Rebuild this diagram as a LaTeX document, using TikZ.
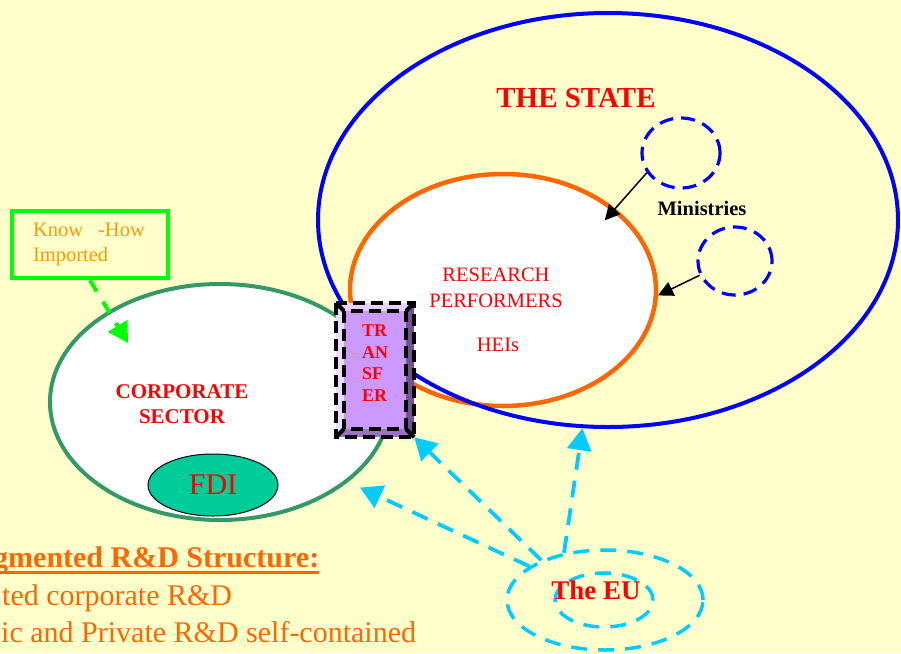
\documentclass[tikz,border=0pt]{standalone}
\usepackage{fontspec}
\setmainfont{Liberation Serif}
\usepackage{tikz}
\usetikzlibrary{shapes.geometric,arrows.meta,positioning,calc}
\definecolor{slide}{HTML}{FFFFCC}
\definecolor{stateblue}{HTML}{0000FF}
\definecolor{rporange}{HTML}{FF6600}
\definecolor{corpgreen}{HTML}{339966}
\definecolor{khgreen}{HTML}{00FF00}
\definecolor{khtext}{HTML}{FF9900}
\definecolor{eucyan}{HTML}{00CCFF}
\definecolor{trpurple}{HTML}{CC99FF}
\definecolor{fditeal}{HTML}{00CC99}

\begin{document}
\begin{tikzpicture}[x=1pt,y=-1pt,
    oval/.style={shape=ellipse, inner sep=0pt},
    lbl/.style={text=red, align=center, inner sep=0pt},
    ministry/.style={oval, draw=stateblue, line width=3.2pt, dash pattern=on 14pt off 8pt},
    eudash/.style={oval, draw=eucyan, line width=3.5pt, dash pattern=on 16pt off 11pt},
    eulink/.style={draw=eucyan, line width=3.8pt, dash pattern=on 17pt off 11pt, -{Triangle[length=22pt,width=24pt]}},
    minlink/.style={draw=black, line width=1.5pt, -{Triangle[length=15pt,width=15pt]}},
    trline/.style={draw=black, line width=4pt, dash pattern=on 12pt off 6pt},
  ]
  \useasboundingbox[fill=slide] (0,0) rectangle (901,653);

  % state and research performers
  \node[oval, draw=rporange, fill=white, line width=4.5pt, minimum width=306pt, minimum height=232pt] (rp) at (503,290) {};
  \node[oval, draw=stateblue, line width=4pt, minimum width=580pt, minimum height=414pt] (state) at (608,220) {};
  \node[lbl, font=\bfseries\fontsize{29}{32}\selectfont] (statelbl) at (576,98) {THE STATE};
  \node[lbl, font=\fontsize{20.5}{26}\selectfont] (rplbl) at (496,288) {RESEARCH\\PERFORMERS};
  \node[lbl, font=\fontsize{20.5}{24}\selectfont] (heis) at (498,345) {HEIs};

  \node[ministry, minimum width=78pt, minimum height=70pt] (min1) at (681,153) {};
  \node[ministry, minimum width=74pt, minimum height=68pt] (min2) at (735,261) {};
  \node[inner sep=0pt, font=\bfseries\fontsize{20.5}{24}\selectfont] (minlbl) at (702,208) {Ministries};
  \draw[minlink, shorten >=-16pt] (min1.-150) -- (rp.36);
  \draw[minlink] (min2.-158) -- (rp.-2);

  % corporate sector
  \node[oval, draw=corpgreen, fill=white, line width=4pt, minimum width=340pt, minimum height=236pt] (corp) at (220,402) {};
  \node[lbl, font=\bfseries\fontsize{21}{25}\selectfont] (corplbl) at (182,404) {CORPORATE\\SECTOR};
  \node[oval, draw=black, fill=fditeal, line width=1pt, minimum width=130pt, minimum height=62pt,
    text=red, font=\fontsize{30}{32}\selectfont] (fdi) at (213,485) {FDI};

  % know-how box
  \node[draw=khgreen, line width=4.5pt, minimum width=156pt, minimum height=67pt, text width=114pt, align=left,
    text=khtext, font=\fontsize{20.5}{25}\selectfont] (kh) at (90,244.5) {Know\hspace{0.4em} -How\\Imported};
  \coordinate (kh-end) at (128,343);
  \draw[draw=khgreen, line width=4pt, dash pattern=on 13pt off 12pt, -{Triangle[length=20pt,width=22pt]}] (kh.south) -- (kh-end);

  % transfer box
  \node[fill=trpurple, minimum width=78pt, minimum height=134pt, inner sep=0pt] (tr) at (375,370) {};
  \fill[fill=trpurple!45!white] (tr.north west) -- (tr.north east) -- ($(tr.north east)+(-8,8)$) -- ($(tr.north west)+(8,8)$) -- cycle;
  \fill[fill=trpurple!35!white] (tr.north west) -- ($(tr.north west)+(8,8)$) -- ($(tr.south west)+(8,-8)$) -- (tr.south west) -- cycle;
  \fill[fill=trpurple!55!black] (tr.north east) -- (tr.south east) -- ($(tr.south east)+(-8,-8)$) -- ($(tr.north east)+(-8,8)$) -- cycle;
  \fill[fill=trpurple!75!black] (tr.south west) -- (tr.south east) -- ($(tr.south east)+(-8,-8)$) -- ($(tr.south west)+(8,-8)$) -- cycle;
  \draw[trline] (tr.north west) rectangle (tr.south east);
  \draw[trline] ($(tr.north west)+(8,8)$) rectangle ($(tr.south east)+(-8,-8)$);
  \draw[trline, dash pattern=] (tr.north west) -- ++(8,8) (tr.north east) -- ++(-8,8)
    (tr.south west) -- ++(8,-8) (tr.south east) -- ++(-8,-8);
  \node[text=red, align=left, inner sep=0pt, font=\bfseries\fontsize{18}{21.5}\selectfont, yshift=7pt] (trlbl) at (tr.center) {TR\\AN\\SF\\ER};

  % the EU
  \node[eudash, minimum width=196pt, minimum height=100pt] (eu) at (605,600) {};
  \node[eudash, minimum width=98pt, minimum height=54pt] (euin) at (604,600) {};
  \node[lbl, font=\bfseries\fontsize{27}{30}\selectfont] (eulbl) at (596,590) {The EU};
  \draw[eulink] (eu.131) -- (state.-97);
  \draw[eulink] (eu.148) -- (tr.south east);
  \draw[eulink, shorten >=13pt] (eu.156) -- (corp.-32);

  % structure text
  \node[anchor=base west, inner sep=0pt, text=rporange, font=\bfseries\fontsize{30}{34}\selectfont] (head) at (-7,567) {gmented R\&D Structure:};
  \draw[rporange, line width=3pt] ([yshift=-5pt]head.base west) -- ([yshift=-5pt]head.base east);
  \node[anchor=base west, inner sep=0pt, text=rporange, font=\fontsize{30}{34}\selectfont] (isol) at (2,605) {ted corporate R\&D};
  \node[anchor=base west, inner sep=0pt, text=rporange, font=\fontsize{30}{34}\selectfont] (selfc) at (1,642) {ic and Private R\&D self-contained};
\end{tikzpicture}
\end{document}
